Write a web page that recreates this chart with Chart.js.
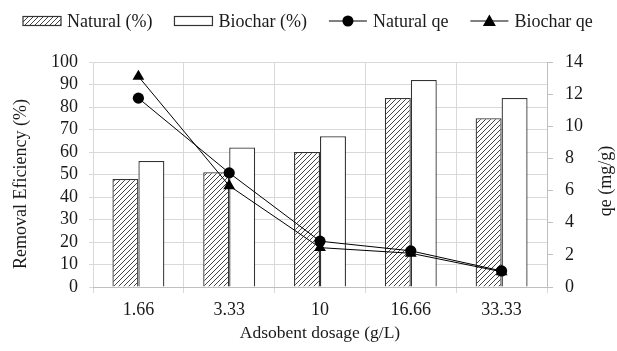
<!DOCTYPE html>
<html>
<head>
<meta charset="utf-8">
<script src="https://cdn.jsdelivr.net/npm/chart.js@4/dist/chart.umd.min.js"></script>
<style>
html,body{margin:0;padding:0;background:#fff;}
#wrap{width:617px;height:351px;position:relative;}
</style>
</head>
<body>
<div id="wrap"><canvas id="c" width="617" height="351"></canvas></div>
<script>
const categories = ['1.66', '3.33', '10', '16.66', '33.33'];
const naturalPct = [48, 51, 60, 84, 75];
const biocharPct = [56, 62, 67, 92, 84];
const naturalQe = [11.75, 7.1, 2.85, 2.25, 1.0];
const biocharQe = [13.1, 6.3, 2.45, 2.1, 0.95];
const leftTicks = [0, 10, 20, 30, 40, 50, 60, 70, 80, 90, 100];
const rightTicks = [0, 2, 4, 6, 8, 10, 12, 14];

const FONT = "'Liberation Serif', 'Times New Roman', serif";
const TXT = '#1a1a1a';

function makeHatch() {
  const s = 5;
  const cv = document.createElement('canvas');
  cv.width = s; cv.height = s;
  const g = cv.getContext('2d');
  g.fillStyle = '#fff';
  g.fillRect(0, 0, s, s);
  g.strokeStyle = '#444';
  g.lineWidth = 1;
  g.beginPath();
  g.moveTo(0, s); g.lineTo(s, 0);
  g.moveTo(-1, 1); g.lineTo(1, -1);
  g.moveTo(s - 1, s + 1); g.lineTo(s + 1, s - 1);
  g.stroke();
  return g.createPattern(cv, 'repeat');
}
const ctx0 = document.getElementById('c').getContext('2d');
const hatch = makeHatch();

const customLegend = {
  id: 'customLegend',
  afterDraw(chart) {
    const ctx = chart.ctx;
    ctx.save();
    ctx.font = '18px ' + FONT;
    ctx.textBaseline = 'middle';
    ctx.fillStyle = TXT;
    const cy = 21;
    let x = 23;
    const items = [
      {type: 'hatch', text: 'Natural (%)'},
      {type: 'box', text: 'Biochar (%)'},
      {type: 'circle', text: 'Natural qe'},
      {type: 'tri', text: 'Biochar qe'}
    ];
    items.forEach(it => {
      if (it.type === 'hatch' || it.type === 'box') {
        ctx.fillStyle = it.type === 'hatch' ? hatch : '#fff';
        ctx.fillRect(x, cy - 4.5, 38, 9);
        ctx.strokeStyle = '#333';
        ctx.lineWidth = 1.2;
        ctx.strokeRect(x, cy - 4.5, 38, 9);
        x += 44;
      } else {
        ctx.strokeStyle = '#000';
        ctx.lineWidth = 1;
        ctx.beginPath();
        ctx.moveTo(x, cy); ctx.lineTo(x + 38, cy);
        ctx.stroke();
        ctx.fillStyle = '#000';
        const mx = x + 19;
        ctx.beginPath();
        if (it.type === 'circle') {
          ctx.arc(mx, cy, 5.5, 0, Math.PI * 2);
        } else {
          ctx.moveTo(mx, cy - 6.5);
          ctx.lineTo(mx + 6.5, cy + 5);
          ctx.lineTo(mx - 6.5, cy + 5);
          ctx.closePath();
        }
        ctx.fill();
        x += 44;
      }
      ctx.fillStyle = TXT;
      ctx.fillText(it.text, x, cy + 1);
      x += ctx.measureText(it.text).width + 22;
    });
    // axis titles (both read bottom to top)
    ctx.font = '18px ' + FONT;
    ctx.textAlign = 'center';
    ctx.save();
    ctx.translate(21, 184);
    ctx.rotate(-Math.PI / 2);
    ctx.fillText('Removal Eficiency (%)', 0, 0);
    ctx.restore();
    ctx.save();
    ctx.translate(606, 181);
    ctx.rotate(-Math.PI / 2);
    ctx.fillText('qe (mg/g)', 0, 0);
    ctx.restore();
    ctx.restore();
  }
};

new Chart(ctx0, {
  data: {
    labels: categories,
    datasets: [
      {type: 'line', label: 'Natural qe', data: naturalQe, yAxisID: 'y2', order: 0,
       borderColor: '#000', borderWidth: 1, backgroundColor: '#000', pointStyle: 'circle',
       pointRadius: 5.6, pointBorderWidth: 0, pointBackgroundColor: '#000', tension: 0},
      {type: 'line', label: 'Biochar qe', data: biocharQe, yAxisID: 'y2', order: 0,
       borderColor: '#000', borderWidth: 1, backgroundColor: '#000', pointStyle: 'triangle',
       pointRadius: 6.8, pointBorderWidth: 0, pointBackgroundColor: '#000', tension: 0},
      {type: 'bar', label: 'Natural (%)', data: naturalPct, yAxisID: 'y', order: 1,
       backgroundColor: hatch, borderColor: '#333', borderWidth: 1.3,
       categoryPercentage: 0.572, barPercentage: 1.0},
      {type: 'bar', label: 'Biochar (%)', data: biocharPct, yAxisID: 'y', order: 1,
       backgroundColor: '#fff', borderColor: '#333', borderWidth: 1.3,
       categoryPercentage: 0.572, barPercentage: 1.0}
    ]
  },
  options: {
    responsive: false,
    animation: false,
    events: [],
    layout: {padding: {top: 62, left: 0, right: 0, bottom: 0}},
    plugins: {legend: {display: false}, tooltip: {enabled: false}},
    scales: {
      x: {
        offset: true,
        grid: {offset: true, color: '#d9d9d9', lineWidth: 1, tickLength: 6, drawTicks: true},
        border: {color: '#bfbfbf'},
        ticks: {font: {family: FONT, size: 18}, color: TXT, padding: 6, maxRotation: 0, autoSkip: false},
        title: {display: true, text: 'Adsobent dosage (g/L)', font: {family: FONT, size: 17.5},
                color: TXT, padding: {top: 4, bottom: 7}},
        afterFit(s) { s.height = 64; }
      },
      y: {
        position: 'left', min: 0, max: 100,
        afterBuildTicks(s) { s.ticks = leftTicks.map(v => ({value: v})); },
        grid: {color: '#d9d9d9', lineWidth: 1, drawTicks: true, tickLength: 4},
        border: {display: false},
        ticks: {font: {family: FONT, size: 18}, color: TXT, padding: 11, autoSkip: false},
        afterFit(s) { s.width = 93; }
      },
      y2: {
        position: 'right', min: 0, max: 14,
        afterBuildTicks(s) { s.ticks = rightTicks.map(v => ({value: v})); },
        grid: {drawOnChartArea: false, color: '#bfbfbf', tickLength: 6},
        border: {color: '#bfbfbf'},
        ticks: {font: {family: FONT, size: 18}, color: TXT, padding: 12, autoSkip: false},
        afterFit(s) { s.width = 70; }
      }
    }
  },
  plugins: [customLegend]
});
</script>
</body>
</html>
